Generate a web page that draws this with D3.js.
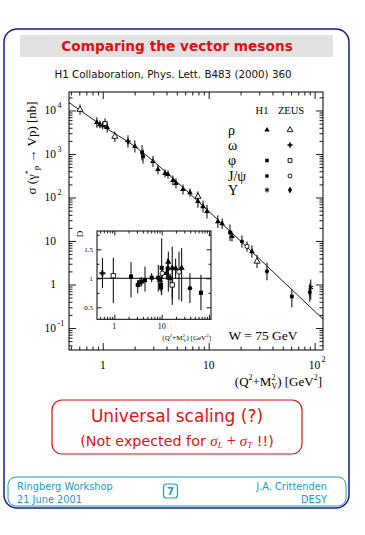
<!DOCTYPE html>
<html><head><meta charset="utf-8">
<script src="https://cdn.jsdelivr.net/npm/d3@7"></script>
<style>body{margin:0;background:#fff}</style>
</head><body>
<svg id="c" width="365" height="535"></svg>
<script>
// ---------------- DATA ----------------
const mainQ2    = [0.61, 0.88, 0.94, 1.0, 1.05, 1.10, 1.30, 1.73, 2.01, 2.35, 2.40, 2.98, 3.32, 3.87, 4.13, 4.60, 4.91, 5.72, 6.66, 7.92, 7.92, 8.84, 9.64, 12.2, 13.4, 15.9, 16.6, 20.6, 23.0, 25.6, 28.6, 35.5, 61, 92, 90];
const mainSigma = [10500, 5300, 4760, 4520, 5020, 4070, 2520, 1940, 1490, 1080, 877, 673, 441, 357, 338, 246, 210, 153, 130, 105, 81, 62, 48, 28, 25, 15.7, 12.7, 9.7, 7.5, 5.7, 3.4, 2.0, 0.53, 0.85, 0.66];
const mainLo    = [8000, 4000, 3900, 3700, 3800, 3100, 1900, 1400, 1080, 710, 600, 500, 340, 290, 270, 190, 160, 117, 105, 80, 58, 45, 33, 20, 19, 10, 9.7, 7.0, 5.7, 4.1, 2.4, 1.25, 0.30, 0.45, 0.40];
const mainHi    = [13800, 7000, 5900, 5500, 6600, 5300, 3300, 2700, 2050, 1600, 1270, 900, 570, 440, 420, 320, 275, 200, 160, 138, 112, 85, 68, 39, 33, 24, 16.6, 13.5, 9.8, 7.9, 4.8, 3.2, 0.77, 1.30, 1.05];
const mainMarker= ["Zrho","Hrho","Hrho","Hrho","Zphi","Hrho","Zrho","Zomega","Hrho","Hphi","Hphi","Hrho","Hrho","Hrho","Hrho","Hrho","Hrho","Hrho","Hrho","Zrho","Hrho","Hrho","Hrho","Hrho","Hrho","Hphi","Hrho","Hjpsi","Zjpsi","Hrho","Zrho","Hjpsi","Hphi","Hups","Zups"];

const fitQ2    = [0.48, 1, 2, 5, 10, 20, 50, 120];
const fitSigma = [15300, 4400, 1500, 230, 48, 10, 1.2, 0.16];

const insetQ2    = [0.56, 0.95, 2.25, 3.12, 3.48, 3.78, 4.44, 6.15, 8.47, 9.2, 9.67, 9.67, 10.0, 10.3, 12.7, 13.4, 13.8, 15.0, 16.7, 16.7, 19.7, 23.2, 26.4, 39.5, 67.5];
const insetRatio = [1.086, 1.045, 1.03, 0.885, 0.93, 0.94, 0.97, 1.01, 1.01, 0.97, 0.885, 0.84, 1.18, 1.086, 1.086, 1.17, 1.28, 1.0, 1.18, 0.885, 1.17, 1.11, 1.18, 0.83, 0.75];
const insetLo    = [0.83, 0.57, 0.67, 0.74, 0.85, 0.86, 0.77, 0.93, 0.77, 0.88, 0.80, 0.76, 0.71, 1.0, 0.98, 1.0, 0.77, 0.92, 0.655, 0.54, 1.0, 0.63, 0.60, 0.57, 0.45];
const insetHi    = [1.35, 1.355, 1.28, 0.97, 1.01, 1.02, 1.20, 1.09, 1.23, 1.05, 0.96, 0.92, 1.69, 1.17, 1.18, 1.34, 1.46, 1.08, 1.545, 1.14, 1.34, 1.46, 1.52, 1.09, 1.06];
const insetMarker= ["Zomega","Zphi","Hphi","Hphi","Hphi","Hrho","Hphi","Hphi","Hphi","Hrho","Hphi","Hphi","Hphi","Zjpsi","Hrho","Hphi","Hrho","Hrho","Hrho","Zphi","Hrho","Zjpsi","Hrho","Hjpsi","Hphi"];

const xMajor = [1, 10, 100];
const xMajorExp = ["", "", "2"];
const xMajorBase = ["1", "10", "10"];
const yDecades = [-1, 0, 1, 2, 3, 4];
const yBase = ["10", "1", "10", "10", "10", "10"];
const yExp  = ["-1", "", "", "2", "3", "4"];

const legendNames = ["ρ", "ω", "φ", "J/ψ", "Υ"];
const legendH1    = ["Hrho", null, "Hphi", "Hjpsi", "Hups"];
const legendZEUS  = ["Zrho", "Zomega", "Zphi", "Zjpsi", "Zups"];

const insetYTicks = [0.5, 1, 1.5];
const insetYLabels = ["0.5", "1", "1.5"];
const insetXLabels = ["1", "10"];

// ---------------- DRAWING ----------------
const svg = d3.select("#c");
const navy = "#1b1b8f", red = "#e01010", teal = "#1f9ac0";
const serif = "'Liberation Serif','DejaVu Serif',serif";
const sans = "'DejaVu Sans',Verdana,sans-serif";

// slide frame
svg.append("rect").attr("x",4).attr("y",29).attr("width",345).attr("height",479)
  .attr("rx",13).attr("fill","none").attr("stroke",navy).attr("stroke-width",1.5);
svg.append("rect").attr("x",20).attr("y",35).attr("width",313).attr("height",22).attr("fill","#e2e2e2");
svg.append("text").attr("x",177).attr("y",51).attr("text-anchor","middle")
  .attr("font-family",sans).attr("font-weight","bold").attr("font-size",13.7).attr("fill",red)
  .text("Comparing the vector mesons");
svg.append("text").attr("x",173).attr("y",78).attr("text-anchor","middle")
  .attr("font-family",sans).attr("font-size",10.3).attr("fill","#111")
  .text("H1 Collaboration, Phys. Lett. B483 (2000) 360");

// main plot scales
const X0=69, X1=323, Y0=92, Y1=350;
const x = d3.scaleLog().domain([0.48,120]).range([X0,X1]);
const y = d3.scaleLog().domain([0.0312,26600]).range([Y1,Y0]);

svg.append("rect").attr("x",X0).attr("y",Y0).attr("width",X1-X0).attr("height",Y1-Y0)
  .attr("fill","none").attr("stroke","#000").attr("stroke-width",1);

function logTicks(scale){
  const [a,b]=scale.domain(); const maj=[],min=[];
  for(let d=Math.floor(Math.log10(a)); d<=Math.ceil(Math.log10(b)); d++){
    for(let k=1;k<=9;k++){const v=k*Math.pow(10,d); if(v>=a&&v<=b){(k===1?maj:min).push(v);}}
  }
  return {maj,min};
}
function drawAxes(sx, sy, x0,x1,y0,y1, xt, yt, majLen, minLen){
  const add=(axisFn, scale, vals, len, tr)=>{
    const ax = svg.append("g").attr("transform",tr)
      .call(axisFn(scale).tickValues(vals).tickSize(len).tickFormat(""));
    ax.select(".domain").remove();
    ax.selectAll("line").attr("stroke","#000").attr("stroke-width",0.9);
  };
  add(d3.axisBottom, sx, xt.maj, -majLen, `translate(0,${y1})`);
  add(d3.axisBottom, sx, xt.min, -minLen, `translate(0,${y1})`);
  add(d3.axisTop, sx, xt.maj, -majLen, `translate(0,${y0})`);
  add(d3.axisTop, sx, xt.min, -minLen, `translate(0,${y0})`);
  add(d3.axisLeft, sy, yt.maj, -majLen, `translate(${x0},0)`);
  add(d3.axisLeft, sy, yt.min, -minLen, `translate(${x0},0)`);
  add(d3.axisRight, sy, yt.maj, -majLen, `translate(${x1},0)`);
  add(d3.axisRight, sy, yt.min, -minLen, `translate(${x1},0)`);
}
drawAxes(x,y,X0,X1,Y0,Y1,logTicks(x),logTicks(y),7,3.5);

// tick labels
xMajor.forEach((v,i)=>{
  svg.append("text").attr("x",x(v)).attr("y",369).attr("text-anchor","middle")
    .attr("font-family",serif).attr("font-size",11.5).attr("fill","#000").text(xMajorBase[i]);
  if(xMajorExp[i]) svg.append("text").attr("x",x(v)+7).attr("y",362).attr("font-family",serif)
    .attr("font-size",8).attr("fill","#000").text(xMajorExp[i]);
});
yDecades.forEach((d,i)=>{
  const yy = y(Math.pow(10,d));
  svg.append("text").attr("x",56).attr("y",yy+4).attr("text-anchor","end")
    .attr("font-family",serif).attr("font-size",11.5).attr("fill","#000").text(yBase[i]);
  if(yExp[i]) svg.append("text").attr("x",57.5).attr("y",yy-2).attr("font-family",serif)
    .attr("font-size",8).attr("fill","#000").text(yExp[i]);
});

// axis titles
const yt = svg.append("text").attr("transform","translate(36,148) rotate(-90)").attr("text-anchor","middle")
  .attr("font-family",serif).attr("font-size",13).attr("fill","#000");
yt.append("tspan").text("σ (γ");
yt.append("tspan").attr("dy",-5).attr("font-size",8).text("*");
yt.append("tspan").attr("dy",8).attr("font-size",9).text("p");
yt.append("tspan").attr("dy",-3).text(" → Vp)  [nb]");

const xt = svg.append("text").attr("x",322).attr("y",386).attr("text-anchor","end")
  .attr("font-family",serif).attr("font-size",13).attr("fill","#000");
xt.append("tspan").text("(Q");
xt.append("tspan").attr("dy",-6).attr("font-size",8).text("2");
xt.append("tspan").attr("dy",6).text("+M");
xt.append("tspan").attr("dy",-6).attr("font-size",8).text("2");
xt.append("tspan").attr("dx",-4).attr("dy",9).attr("font-size",8).text("V");
xt.append("tspan").attr("dy",-3).text(") [GeV");
xt.append("tspan").attr("dy",-6).attr("font-size",8).text("2");
xt.append("tspan").attr("dy",6).text("]");

// fit line
svg.append("path").datum(fitQ2.map((q,i)=>[q,fitSigma[i]]))
  .attr("d", d3.line().x(d=>x(d[0])).y(d=>y(d[1])).curve(d3.curveMonotoneX))
  .attr("fill","none").attr("stroke","#000").attr("stroke-width",0.9);

// markers
function marker(sel, type, cx, cy, s){
  s = s||1;
  if(!type) return;
  const m = {
    Hrho:[d3.symbolTriangle,14,true], Zrho:[d3.symbolTriangle,16,false],
    Hphi:[d3.symbolSquare,14,true], Zphi:[d3.symbolSquare,16,false],
    Hjpsi:[d3.symbolCircle,13,true], Zjpsi:[d3.symbolCircle,14,false],
    Zomega:[d3.symbolCross,16,true], Zups:[d3.symbolDiamond,16,true],
    Hups:[d3.symbolAsterisk,20,false]
  }[type];
  const p = sel.append("path").attr("transform",`translate(${cx},${cy})`)
    .attr("d", d3.symbol().type(m[0]).size(m[1]*s)());
  if(type==="Hups") p.attr("fill","none").attr("stroke","#000").attr("stroke-width",1);
  else if(m[2]) p.attr("fill","#000").attr("stroke","none");
  else p.attr("fill","#fff").attr("stroke","#000").attr("stroke-width",0.9);
}

const dg = svg.append("g");
mainQ2.forEach((q,i)=>{
  dg.append("line").attr("x1",x(q)).attr("x2",x(q)).attr("y1",y(mainLo[i])).attr("y2",y(mainHi[i]))
    .attr("stroke","#000").attr("stroke-width",1);
});
mainQ2.forEach((q,i)=>marker(dg, mainMarker[i], x(q), y(mainSigma[i])));

// legend
svg.append("text").attr("x",262).attr("y",114).attr("text-anchor","middle").attr("font-family",serif)
  .attr("font-size",10.5).attr("fill","#000").text("H1");
svg.append("text").attr("x",291).attr("y",114).attr("text-anchor","middle").attr("font-family",serif)
  .attr("font-size",10.5).attr("fill","#000").text("ZEUS");
const rowY = [130, 145, 160.5, 176, 190];
legendNames.forEach((n,i)=>{
  svg.append("text").attr("x",228).attr("y",rowY[i]+4.5).attr("font-family",serif)
    .attr("font-size",14).attr("fill","#000").text(n);
  marker(svg, legendH1[i], 267, rowY[i], 0.9);
  marker(svg, legendZEUS[i], 290, rowY[i], 0.9);
});

svg.append("text").attr("x",263).attr("y",340).attr("text-anchor","middle").attr("font-family",serif)
  .attr("font-size",13.5).attr("fill","#000").text("W = 75 GeV");

// ---------------- INSET ----------------
const IX0=97, IX1=211, IY0=231, IY1=319.3;
const xi = d3.scaleLog().domain([0.43,110]).range([IX0,IX1]);
const yi = d3.scaleLinear().domain([0.293,1.815]).range([IY1,IY0]);
svg.append("rect").attr("x",IX0).attr("y",IY0).attr("width",IX1-IX0).attr("height",IY1-IY0)
  .attr("fill","#fff").attr("stroke","#000").attr("stroke-width",1);
drawAxes(xi,yi,IX0,IX1,IY0,IY1,logTicks(xi),{maj:[0.5,1,1.5],min:[0.75,1.25,1.75]},4.5,2.5);
svg.append("line").attr("x1",IX0).attr("x2",IX1).attr("y1",yi(1)).attr("y2",yi(1))
  .attr("stroke","#000").attr("stroke-width",1);
insetYTicks.forEach((v,i)=>{
  svg.append("text").attr("x",93).attr("y",yi(v)+2.5).attr("text-anchor","end").attr("font-family",serif)
    .attr("font-size",7).attr("fill","#000").text(insetYLabels[i]);
});
[1,10].forEach((v,i)=>{
  svg.append("text").attr("x",xi(v)).attr("y",329).attr("text-anchor","middle").attr("font-family",serif)
    .attr("font-size",8).attr("fill","#000").text(insetXLabels[i]);
});
const ixt = svg.append("text").attr("x",211).attr("y",340).attr("text-anchor","end")
  .attr("font-family",serif).attr("font-size",7).attr("fill","#000");
ixt.append("tspan").text("(Q");
ixt.append("tspan").attr("dy",-3).attr("font-size",5).text("2");
ixt.append("tspan").attr("dy",3).text("+M");
ixt.append("tspan").attr("dy",-3).attr("font-size",5).text("2");
ixt.append("tspan").attr("dx",-2).attr("dy",5).attr("font-size",5).text("V");
ixt.append("tspan").attr("dy",-2).text(") [GeV");
ixt.append("tspan").attr("dy",-3).attr("font-size",5).text("2");
ixt.append("tspan").attr("dy",3).text("]");
svg.append("text").attr("transform","translate(83,234) rotate(-90)").attr("text-anchor","middle")
  .attr("font-family",serif).attr("font-size",9).attr("fill","#000").text("D");

const ig = svg.append("g");
insetQ2.forEach((q,i)=>{
  ig.append("line").attr("x1",xi(q)).attr("x2",xi(q)).attr("y1",yi(insetLo[i])).attr("y2",yi(insetHi[i]))
    .attr("stroke","#000").attr("stroke-width",1);
});
insetQ2.forEach((q,i)=>marker(ig, insetMarker[i], xi(q), yi(insetRatio[i]), 1.2));

// ---------------- BOTTOM BOXES ----------------
svg.append("rect").attr("x",52).attr("y",400).attr("width",250).attr("height",54).attr("rx",10)
  .attr("fill","none").attr("stroke",red).attr("stroke-width",1.2);
svg.append("text").attr("x",177).attr("y",422).attr("text-anchor","middle").attr("font-family",sans)
  .attr("font-size",17).attr("fill",red).text("Universal scaling (?)");
const ne = svg.append("text").attr("x",177).attr("y",446).attr("text-anchor","middle").attr("font-family",sans)
  .attr("font-size",14.3).attr("fill",red);
ne.append("tspan").text("(Not expected for ");
ne.append("tspan").attr("font-family",serif).attr("font-style","italic").attr("font-size",15).text("σ");
ne.append("tspan").attr("font-family",serif).attr("font-style","italic").attr("font-size",9).attr("dy",2).text("L");
ne.append("tspan").attr("font-family",serif).attr("font-size",16).attr("dy",-2).text(" + ");
ne.append("tspan").attr("font-family",serif).attr("font-style","italic").attr("font-size",15).text("σ");
ne.append("tspan").attr("font-family",serif).attr("font-style","italic").attr("font-size",9).attr("dy",2).text("T");
ne.append("tspan").attr("dy",-2).text(" !!)");

svg.append("rect").attr("x",8).attr("y",477).attr("width",338).attr("height",29).attr("rx",8)
  .attr("fill","none").attr("stroke",teal).attr("stroke-width",1);
const ft = (t,xx,yy,anc)=>svg.append("text").attr("x",xx).attr("y",yy).attr("text-anchor",anc)
  .attr("font-family",sans).attr("font-size",9.8).attr("fill",teal).text(t);
ft("Ringberg Workshop",17,490,"start");
ft("21 June 2001",17,503,"start");
ft("J.A. Crittenden",327,490,"end");
ft("DESY",327,503,"end");
svg.append("rect").attr("x",163.5).attr("y",484).attr("width",14).attr("height",14).attr("rx",3)
  .attr("fill","none").attr("stroke",teal).attr("stroke-width",1.2);
svg.append("text").attr("x",170.5).attr("y",495).attr("text-anchor","middle").attr("font-family",sans)
  .attr("font-weight","bold").attr("font-size",10).attr("fill",teal).text("7");
</script>
</body></html>
